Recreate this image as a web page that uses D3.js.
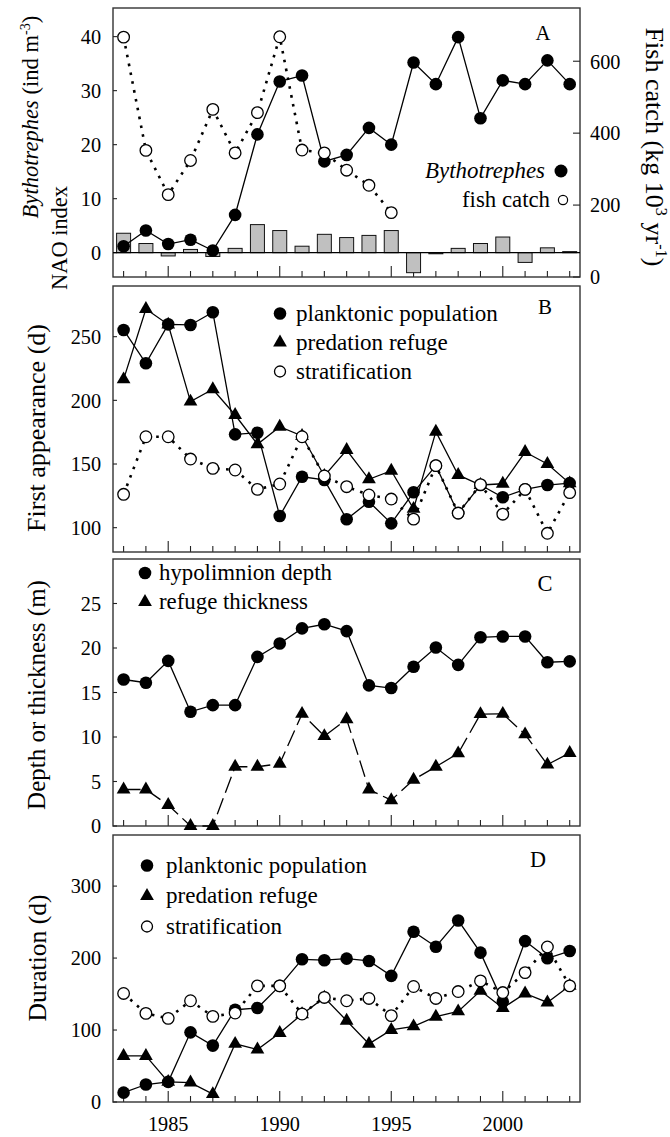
<!DOCTYPE html>
<html>
<head>
<meta charset="utf-8">
<script src="https://cdn.jsdelivr.net/npm/d3@7/dist/d3.min.js"></script>
<style>
  html, body { margin: 0; padding: 0; background: #fff; }
  svg { display: block; }
</style>
</head>
<body>
<svg id="chart" width="670" height="1137"></svg>
<script>
// ---------------- DATA ----------------
const years = [1983,1984,1985,1986,1987,1988,1989,1990,1991,1992,1993,1994,1995,1996,1997,1998,1999,2000,2001,2002,2003];
const majorYears = [1985,1990,1995,2000];

// Panel A
const bythotrephes = [1.2,4.1,1.6,2.4,0.4,7.0,21.9,31.7,32.8,16.9,18.1,23.1,20.0,35.2,31.2,39.9,24.9,31.9,31.2,35.6,31.2];
const naoIndex     = [3.6,1.7,-0.6,0.6,-0.7,0.8,5.2,4.1,1.2,3.4,2.8,3.2,4.1,-3.7,-0.2,0.8,1.7,2.9,-1.8,0.9,0.2];
const fishYears    = [1983,1984,1985,1986,1987,1988,1989,1990,1991,1992,1993,1994,1995];
const fishCatch    = [667,352,229,324,466,345,457,668,353,345,297,255,179];
const aLeftTicks   = [0,10,20,30,40];
const aRightTicks  = [0,200,400,600];

// Panel B (first appearance, d)
const bPlanktonic  = [255.3,229.1,259.7,259.2,269.2,173.3,174.6,109.2,140.0,137.5,106.6,120.4,103.4,127.8,148.7,111.3,133.5,123.9,130.1,133.5,135.0];
const bRefuge      = [216.5,271.7,259.5,199.0,208.7,188.5,165.5,179.3,172.0,140.6,161.0,138.0,144.7,114.8,175.4,141.4,133.5,134.5,159.4,150.0,134.8];
const bStrat       = [126.2,171.4,171.4,153.9,146.6,145.3,130.1,134.3,171.4,140.6,132.2,125.7,122.5,106.7,148.7,111.5,133.8,110.6,130.1,95.6,127.5];
const bTicks       = [100,150,200,250];

// Panel C (depth or thickness, m)
const cHypo        = [16.46,16.1,18.55,12.83,13.58,13.58,19.0,20.5,22.2,22.67,21.9,15.8,15.5,17.9,20.05,18.1,21.2,21.3,21.3,18.4,18.5];
const cRefuge      = [4.1,4.1,2.36,0,0,6.66,6.66,7.0,12.6,10.1,12.0,4.1,2.9,5.2,6.66,8.16,12.57,12.6,10.3,6.9,8.2];
const cTicks       = [0,5,10,15,20,25];

// Panel D (duration, d)
const dPlanktonic  = [13.0,24.3,28.0,96.8,78.4,128.2,130.6,161.4,198.3,197.0,199.2,196.0,175.2,236.5,215.8,252.3,207.5,139.3,223.6,199.7,209.8];
const dRefuge      = [64.0,64.0,28.0,27.0,11.0,80.8,72.9,96.0,122.0,145.0,113.0,80.8,100.1,105.1,118.5,125.9,154.5,130.6,150.8,138.3,161.4];
const dStrat       = [150.8,123.1,116.2,140.7,119.0,123.6,161.4,161.4,122.3,145.3,140.7,143.9,120.0,160.5,143.9,153.5,168.3,152.1,179.8,215.4,161.4];
const dTicks       = [0,100,200,300];

// ---------------- FONT ----------------
const svg = d3.select("#chart");
function measure(str, family, size, style) {
  const t = svg.append("text").attr("font-family", family).attr("font-size", size)
    .attr("font-style", style || null).text(str);
  const w = t.node().getComputedTextLength();
  t.remove();
  return w;
}
const probe = "planktonic population 1985 Bythotrephes";
const baseW = measure(probe, "monospace", 40);
const candidates = ["Liberation Serif", "Tinos", "Times New Roman", "Nimbus Roman", "FreeSerif", "DejaVu Serif", "Noto Serif", "Liberation Sans"];
let FONT = "sans-serif";
for (const f of candidates) {
  if (Math.abs(measure(probe, `"${f}", monospace`, 40) - baseW) > 0.5) { FONT = `"${f}", sans-serif`; break; }
}
svg.attr("font-family", FONT);
// tick label size chosen so "1985" is ~40.5 px wide, as in the reference
const tickFont = 21 * 40.5 / measure("1985", FONT, 21);

// fit a horizontal text element to a target width by font size
function fitWidth(sel, target) {
  const w = sel.node().getComputedTextLength();
  sel.attr("font-size", +sel.attr("font-size") * target / w);
  return sel;
}
// rotated label: centred at (cx, cy), baseline offset, scaled to target length
function rotLabel(cx, cy, angle, target, build) {
  const g = svg.append("g").attr("transform", `translate(${cx},${cy}) rotate(${angle})`);
  const t = g.append("text").attr("text-anchor", "middle").attr("font-size", 24);
  build(t);
  const w = t.node().getComputedTextLength();
  t.attr("transform", `scale(${target / w})`);
}

// ---------------- LAYOUT ----------------
const FL = 113, FR = 580;
const x = d3.scaleLinear().domain([1983, 2003]).range([123.6, 569.7]);
const dotted = "2.6,6.4";

const panels = {
  A: {top: 8,   bottom: 277},
  B: {top: 286, bottom: 552},
  C: {top: 559, bottom: 826},
  D: {top: 835, bottom: 1102}
};

const yA  = d3.scaleLinear().domain([-4.5, 45.3]).range([277, 8]);
const yAR = d3.scaleLinear().domain([0, 748]).range([277, 8]);
const yB  = d3.scaleLinear().domain([80.9, 289.8]).range([552, 286]);
const yC  = d3.scaleLinear().domain([0, 30]).range([826, 559]);
const yD  = d3.scaleLinear().domain([0, 371]).range([1102, 835]);

function frame(p) {
  const g = svg.append("g");
  g.selectAll("line.yt").data(years).enter().append("line")
    .attr("x1", d => x(d)).attr("x2", d => x(d))
    .attr("y1", p.bottom).attr("y2", d => p.bottom - (majorYears.includes(d) ? 11 : 6))
    .attr("stroke", "#222").attr("stroke-width", 1.1);
  g.append("rect").attr("x", FL).attr("y", p.top)
    .attr("width", FR - FL).attr("height", p.bottom - p.top)
    .attr("fill", "none").attr("stroke", "#333").attr("stroke-width", 1.4);
}

function leftAxis(scale, ticks) {
  const g = svg.append("g");
  g.selectAll("line").data(ticks).enter().append("line")
    .attr("x1", FL).attr("x2", FL + 4)
    .attr("y1", d => scale(d)).attr("y2", d => scale(d))
    .attr("stroke", "#222").attr("stroke-width", 1.1);
  g.selectAll("text").data(ticks).enter().append("text")
    .attr("x", 101).attr("y", d => scale(d)).attr("dy", "0.36em")
    .attr("text-anchor", "end").attr("font-size", tickFont).text(d => d);
}

function letter(t, cx, baseline, target) {
  fitWidth(svg.append("text").attr("x", cx).attr("y", baseline).attr("text-anchor", "middle")
    .attr("font-size", 22).text(t), target);
}

function line(vals, scale, opts) {
  const gen = d3.line().x((d, i) => x(opts.xs ? opts.xs[i] : years[i])).y(d => scale(d));
  svg.append("path").attr("d", gen(vals)).attr("fill", "none")
    .attr("stroke", "#000").attr("stroke-width", opts.w || 1.3)
    .attr("stroke-dasharray", opts.dash || null);
}

function filledCircles(vals, scale, xs) {
  svg.append("g").selectAll("circle").data(vals).enter().append("circle")
    .attr("cx", (d, i) => x(xs ? xs[i] : years[i])).attr("cy", d => scale(d))
    .attr("r", 6.3).attr("fill", "#000");
}
function openCircles(vals, scale, xs) {
  svg.append("g").selectAll("circle").data(vals).enter().append("circle")
    .attr("cx", (d, i) => x(xs ? xs[i] : years[i])).attr("cy", d => scale(d))
    .attr("r", 5.8).attr("fill", "#fff").attr("stroke", "#000").attr("stroke-width", 1.3);
}
const tri = d3.symbol(d3.symbolTriangle, 82);
function triangles(vals, scale) {
  svg.append("g").selectAll("path").data(vals).enter().append("path")
    .attr("d", tri)
    .attr("transform", (d, i) => `translate(${x(years[i])},${scale(d)})`)
    .attr("fill", "#000");
}

function legend(items, cx, tx, y0, step) {
  items.forEach((it, i) => {
    const cy = y0 + i * step;
    if (it.m === "f") svg.append("circle").attr("cx", cx).attr("cy", cy).attr("r", 6.3).attr("fill", "#000");
    if (it.m === "o") svg.append("circle").attr("cx", cx).attr("cy", cy).attr("r", 5.5).attr("fill", "#fff").attr("stroke", "#000").attr("stroke-width", 1.3);
    if (it.m === "t") svg.append("path").attr("d", tri).attr("transform", `translate(${cx},${cy})`).attr("fill", "#000");
    fitWidth(svg.append("text").attr("x", tx).attr("y", cy + 7).attr("font-size", 22).text(it.label), it.w);
  });
}

// ---------------- PANEL A ----------------
frame(panels.A);
leftAxis(yA, aLeftTicks);
{
  const g = svg.append("g");
  g.selectAll("line").data(aRightTicks).enter().append("line")
    .attr("x1", FR - 7).attr("x2", FR)
    .attr("y1", d => yAR(d)).attr("y2", d => yAR(d))
    .attr("stroke", "#222").attr("stroke-width", 1.1);
  g.selectAll("text").data(aRightTicks).enter().append("text")
    .attr("x", 590).attr("y", d => yAR(d)).attr("dy", "0.36em")
    .attr("font-size", tickFont).text(d => d);
}
svg.append("g").selectAll("rect").data(naoIndex).enter().append("rect")
  .attr("x", (d, i) => x(years[i]) - 7).attr("width", 14)
  .attr("y", d => yA(Math.max(0, d))).attr("height", d => Math.abs(yA(d) - yA(0)))
  .attr("fill", "#c0c0c0").attr("stroke", "#111").attr("stroke-width", 1);
svg.append("line").attr("x1", FL).attr("x2", FR).attr("y1", yA(0)).attr("y2", yA(0))
  .attr("stroke", "#000").attr("stroke-width", 1.3);
line(bythotrephes, yA, {});
line(fishCatch, yAR, {xs: fishYears, dash: dotted, w: 2.6});
filledCircles(bythotrephes, yA);
openCircles(fishCatch, yAR, fishYears);
letter("A", 543, 40, 15);
{
  fitWidth(svg.append("text").attr("x", 545).attr("y", 178).attr("text-anchor", "end")
    .attr("font-size", 22).attr("font-style", "italic").text("Bythotrephes"), 120);
  svg.append("circle").attr("cx", 561).attr("cy", 171).attr("r", 6.5).attr("fill", "#000");
  fitWidth(svg.append("text").attr("x", 550).attr("y", 207).attr("text-anchor", "end")
    .attr("font-size", 22).text("fish catch"), 88);
  svg.append("circle").attr("cx", 563).attr("cy", 200).attr("r", 4.6).attr("fill", "#fff")
    .attr("stroke", "#000").attr("stroke-width", 1.2);
}
rotLabel(38, 117, -90, 203, t => {
  t.append("tspan").attr("font-style", "italic").text("Bythotrephes");
  t.append("tspan").text(" (ind m");
  t.append("tspan").attr("font-size", 15).attr("dy", -9).text("-3");
  t.append("tspan").attr("dy", 9).text(")");
});
rotLabel(67, 238, -90, 104, t => t.text("NAO index"));
rotLabel(646, 147, 90, 239, t => {
  t.append("tspan").text("Fish catch (kg 10");
  t.append("tspan").attr("font-size", 15).attr("dy", -9).text("3");
  t.append("tspan").attr("dy", 9).text(" yr");
  t.append("tspan").attr("font-size", 15).attr("dy", -9).text("-1");
  t.append("tspan").attr("dy", 9).text(")");
});

// ---------------- PANEL B ----------------
frame(panels.B);
leftAxis(yB, bTicks);
rotLabel(45, 428, -90, 208, t => t.text("First appearance (d)"));
line(bStrat, yB, {dash: dotted, w: 2.6});
line(bPlanktonic, yB, {});
line(bRefuge, yB, {});
filledCircles(bPlanktonic, yB);
triangles(bRefuge, yB);
openCircles(bStrat, yB);
letter("B", 545, 314, 14);
legend([{m: "f", label: "planktonic population", w: 202}, {m: "t", label: "predation refuge", w: 152}, {m: "o", label: "stratification", w: 116}], 280, 296, 313.5, 29);

// ---------------- PANEL C ----------------
frame(panels.C);
leftAxis(yC, cTicks);
rotLabel(45, 695, -90, 230, t => t.text("Depth or thickness (m)"));
line(cHypo, yC, {});
line(cRefuge, yC, {dash: "17,6"});
filledCircles(cHypo, yC);
triangles(cRefuge, yC);
letter("C", 545, 591, 15);
legend([{m: "f", label: "hypolimnion depth", w: 173}, {m: "t", label: "refuge thickness", w: 149}], 145, 159, 573, 29);

// ---------------- PANEL D ----------------
frame(panels.D);
leftAxis(yD, dTicks);
rotLabel(46, 958, -90, 127, t => t.text("Duration (d)"));
line(dStrat, yD, {dash: dotted, w: 2.6});
line(dPlanktonic, yD, {});
line(dRefuge, yD, {});
filledCircles(dPlanktonic, yD);
triangles(dRefuge, yD);
openCircles(dStrat, yD);
letter("D", 538, 867, 16);
legend([{m: "f", label: "planktonic population", w: 201}, {m: "t", label: "predation refuge", w: 152}, {m: "o", label: "stratification", w: 116}], 147, 166, 865.5, 30.5);

svg.append("g").selectAll("text").data(majorYears).enter().append("text")
  .attr("x", d => x(d)).attr("y", 1131).attr("text-anchor", "middle")
  .attr("font-size", tickFont).text(d => d);
</script>
</body>
</html>
